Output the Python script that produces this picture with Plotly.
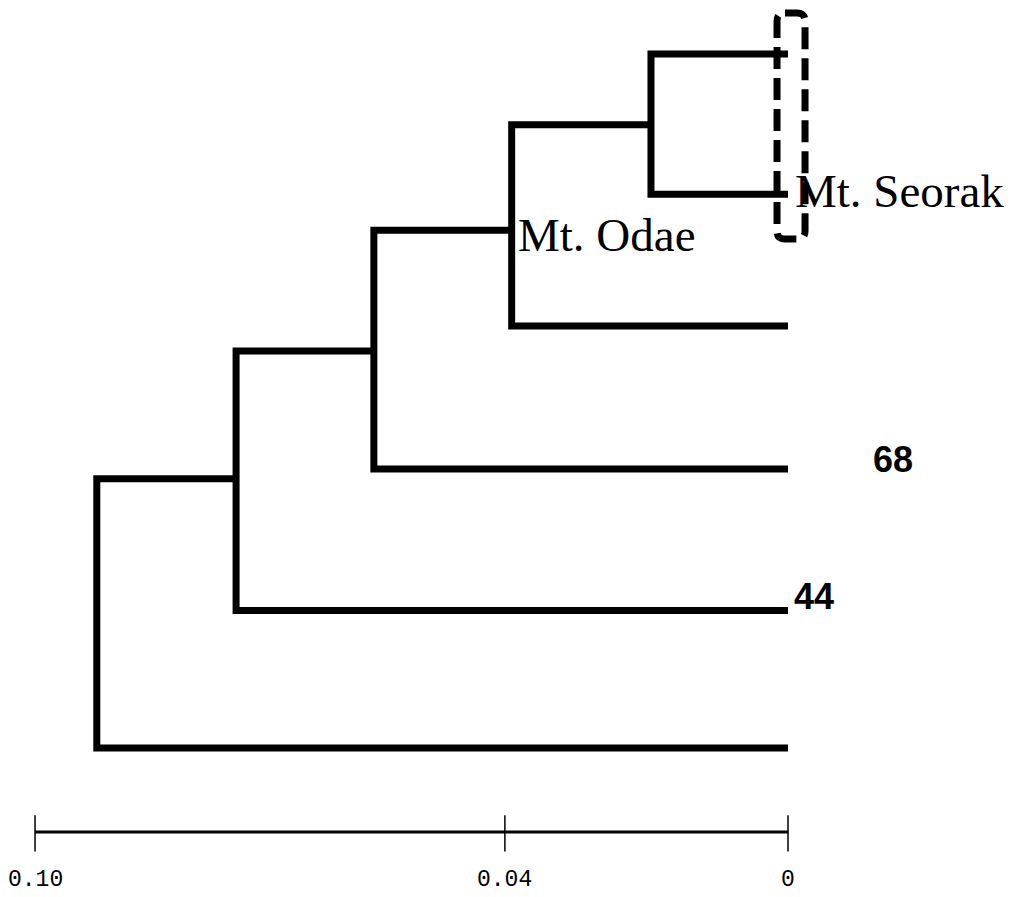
import plotly.graph_objects as go

# ---- data ----
leaf_ids = ["L0", "L1", "L2", "L3", "L4", "L5"]
leaf_y = [0.0, 1.01, 1.96, 2.99, 4.01, 5.0]          # leaf order (top to bottom)
node_ids = ["N0", "N1", "N2", "N3", "N4"]
node_height = [0.0182, 0.0367, 0.0550, 0.0733, 0.0918]  # genetic distance
node_y = [0.51, 1.27, 2.14, 3.06, 4.0]
merge_upper = ["L0", "N0", "N1", "N2", "N3"]
merge_lower = ["L1", "L2", "L3", "L4", "L5"]

scale_tick_values = [0.10, 0.0376, 0.0]
scale_tick_labels = ["0.10", "0.04", "0"]
bootstrap_labels = ["68", "44"]
site_labels = ["Mt. Seorak", "Mt. Odae"]

# ---- build tree geometry ----
pos = {}
for lid, ly in zip(leaf_ids, leaf_y):
    pos[lid] = (0.0, ly)
for nid, h, ny in zip(node_ids, node_height, node_y):
    pos[nid] = (h, ny)

xs, ys = [], []
for nid, a, b in zip(node_ids, merge_upper, merge_lower):
    hx = pos[nid][0]
    ax, ay = pos[a]
    bx, by = pos[b]
    xs += [ax, hx, hx, bx, None]
    ys += [ay, ay, by, by, None]

fig = go.Figure()
fig.add_trace(go.Scatter(x=xs, y=ys, mode="lines",
                         line=dict(color="black", width=7),
                         hoverinfo="skip", showlegend=False))

# scale bar
bar_y = 5.605
fig.add_trace(go.Scatter(x=[scale_tick_values[0], scale_tick_values[-1]], y=[bar_y, bar_y],
                         mode="lines", line=dict(color="black", width=3),
                         hoverinfo="skip", showlegend=False))
tx, ty = [], []
for v in scale_tick_values:
    tx += [v, v, None]
    ty += [bar_y - 0.12, bar_y + 0.14, None]
fig.add_trace(go.Scatter(x=tx, y=ty, mode="lines", line=dict(color="black", width=1.5),
                         hoverinfo="skip", showlegend=False))
for v, lab in zip(scale_tick_values, scale_tick_labels):
    fig.add_annotation(x=v, y=5.95, text=lab, showarrow=False, xanchor="center", yanchor="middle",
                       borderpad=0,
                       font=dict(family="Liberation Mono", size=23, color="black"))

# site labels
fig.add_annotation(x=-0.0006, y=0.985, text=site_labels[0], showarrow=False,
                   xanchor="left", yanchor="middle",
                   font=dict(family="Liberation Serif", size=47, color="black"))
fig.add_annotation(x=0.0361, y=1.305, text=site_labels[1], showarrow=False,
                   xanchor="left", yanchor="middle",
                   font=dict(family="Liberation Serif", size=47, color="black"))

# bootstrap values
fig.add_annotation(x=-0.01394, y=2.925, text="<b>%s</b>" % bootstrap_labels[0], showarrow=False,
                   xanchor="center", yanchor="middle",
                   font=dict(family="Liberation Sans", size=36, color="black"))
fig.add_annotation(x=-0.00345, y=3.912, text="<b>%s</b>" % bootstrap_labels[1], showarrow=False,
                   xanchor="center", yanchor="middle",
                   font=dict(family="Liberation Sans", size=36, color="black"))

# dashed rounded box around Mt. Seorak clade
x0, x1 = 0.00146, -0.00226
y0, y1 = -0.295, 1.333
rx, ry = 0.00106, 0.0576
path = (f"M {x0 - rx},{y0} L {x1 + rx},{y0} Q {x1},{y0} {x1},{y0 + ry} "
        f"L {x1},{y1 - ry} Q {x1},{y1} {x1 + rx},{y1} L {x0 - rx},{y1} "
        f"Q {x0},{y1} {x0},{y1 - ry} L {x0},{y0 + ry} Q {x0},{y0} {x0 - rx},{y0} Z")
fig.add_shape(type="path", path=path, xref="x", yref="y",
              line=dict(color="black", width=7, dash="22px,9px"))

fig.update_layout(
    width=1005, height=889,
    margin=dict(l=0, r=0, t=0, b=0),
    paper_bgcolor="white", plot_bgcolor="white",
    xaxis=dict(range=[0.10359, -0.02988], visible=False, showgrid=False, zeroline=False),
    yaxis=dict(range=[6.0735, -0.3314], visible=False, showgrid=False, zeroline=False),
    showlegend=False,
)
fig.write_html("out.html")
